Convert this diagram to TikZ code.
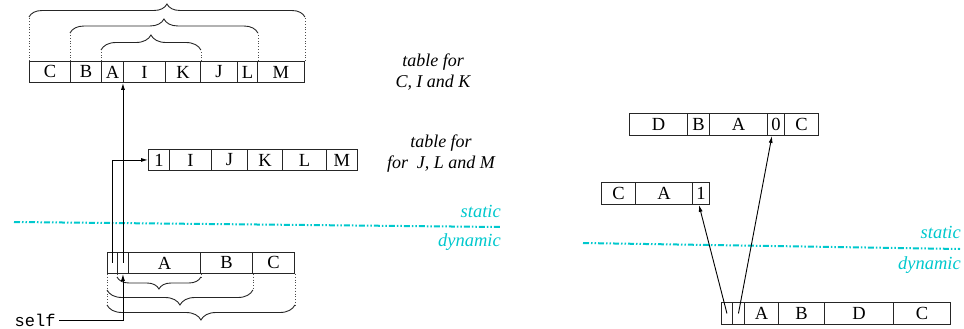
\documentclass[tikz,border=0pt]{standalone}
\usepackage{fontspec}
\setmainfont{Liberation Serif}
\setmonofont{Liberation Mono}
\usetikzlibrary{arrows.meta,decorations.pathreplacing,calc}
\definecolor{cyline}{RGB}{0,200,205}
\begin{document}
\begin{tikzpicture}[x=1pt,y=-1pt,
  cell/.style={draw=black!85, line width=0.9pt, inner sep=0pt, anchor=north west,
    minimum height=21pt, font=\fontsize{18.5}{19}\selectfont},
  lbl/.style={font=\fontsize{18}{21}\selectfont\itshape, align=center},
  cylbl/.style={font=\fontsize{18.5}{20}\selectfont\itshape, text=cyline, inner sep=0pt, anchor=east},
  cydash/.style={draw=cyline, line width=2pt,
    dash pattern=on 6pt off 2pt on 1.5pt off 2pt on 1.5pt off 2pt},
  brc/.style={decorate, line width=0.9pt, black!85},
  dots/.style={dotted, line width=0.8pt, black!70},
  arr/.style={line width=0.9pt, -{Latex[length=7pt,width=4pt]}}
]
\useasboundingbox (0,0) rectangle (964,329);

% ---------- top table ----------
\node[cell, minimum width=41pt] (t1) at (29,61) {C};
\node[cell, minimum width=31pt] (t2) at (70,61) {B};
\node[cell, minimum width=22pt] (t3) at (101,61) {A};
\node[cell, minimum width=42pt] (t4) at (123,61) {I};
\node[cell, minimum width=35pt] (t5) at (165,61) {K};
\node[cell, minimum width=37pt] (t6) at (200,61) {J};
\node[cell, minimum width=20pt] (t7) at (237,61) {L};
\node[cell, minimum width=47pt] (t8) at (257,61) {M};

% braces over top table
\draw[dots] (t1.north west) -- (t1.north west |- 0,17);
\draw[dots] (t8.north east) -- (t8.north east |- 0,17);
\draw[brc, decoration={brace, amplitude=13pt, aspect=0.5}] (t1.north west |- 0,17) -- (t8.north east |- 0,17);
\draw[dots] (t2.north west) -- (t2.north west |- 0,33);
\draw[dots] (t7.north east) -- (t7.north east |- 0,33);
\draw[brc, decoration={brace, amplitude=14pt}] (t2.north west |- 0,33) -- (t7.north east |- 0,33);
\draw[dots] (t3.north west) -- (t3.north west |- 0,50);
\draw[dots] (t5.north east) -- (t5.north east |- 0,50);
\draw[brc, decoration={brace, amplitude=15pt}] (t3.north west |- 0,50) -- (t5.north east |- 0,50);

\node[lbl] (lab1) at (433,72) {table for\\C, I and K};

% ---------- middle table ----------
\node[cell, minimum width=21pt] (m1) at (148,149) {1};
\node[cell, minimum width=42pt] (m2) at (169,149) {I};
\node[cell, minimum width=36pt] (m3) at (211,149) {J};
\node[cell, minimum width=35pt] (m4) at (247,149) {K};
\node[cell, minimum width=44pt] (m5) at (282,149) {L};
\node[cell, minimum width=31pt] (m6) at (326,149) {M};

\node[lbl] (lab2) at (441,154) {table for\\for\ \ J, L and M};

% ---------- static / dynamic (left) ----------
\coordinate (cl1) at (14,222);
\coordinate (cl2) at (500,227);
\draw[cydash] (cl1) -- (cl2);
\node[cylbl] (st1) at (501,211) {static};
\node[cylbl] (dy1) at (501,242) {dynamic};

% ---------- bottom-left table ----------
\node[cell, minimum width=10pt] (b1) at (107,252) {};
\node[cell, minimum width=11pt] (b2) at (117,252) {};
\node[cell, minimum width=72pt] (b3) at (128,252) {A};
\node[cell, minimum width=52pt] (b4) at (200,252) {B};
\node[cell, minimum width=42pt] (b5) at (252,252) {C};

% braces under bottom-left table
\draw[dots] (b2.south west) -- (b2.south west |- 0,277);
\draw[dots] (b3.south east) -- (b3.south east |- 0,277);
\draw[brc, decoration={brace, amplitude=12pt}] (b3.south east |- 0,277) -- (b2.south west |- 0,277);
\draw[dots] (b1.south west) -- (b1.south west |- 0,290);
\draw[dots] (b4.south east) -- (b4.south east |- 0,290);
\draw[brc, decoration={brace, amplitude=15pt}] (b4.south east |- 0,290) -- (b1.south west |- 0,290);
\draw[dots] (b1.south west) -- (b1.south west |- 0,305);
\draw[dots] (b5.south east) -- (b5.south east |- 0,305);
\draw[brc, decoration={brace, amplitude=15pt}] (b5.south east |- 0,305) -- (b1.south west |- 0,305);

% self
\node[anchor=east, font=\fontsize{17}{18}\selectfont\ttfamily] (self) at (59,320) {self};

% connectors (left)
\draw[arr] (b1.center) |- (m1.west);
\draw[arr] (b2.center) -- (b2.center |- t3.south east);
\draw[arr] (self.east) -| (b2.south);

% ---------- right side ----------
\node[cell, minimum width=58pt, minimum height=22pt] (r1) at (629,113) {D};
\node[cell, minimum width=22pt, minimum height=22pt] (r2) at (687,113) {B};
\node[cell, minimum width=58pt, minimum height=22pt] (r3) at (709,113) {A};
\node[cell, minimum width=17pt, minimum height=22pt] (r4) at (767,113) {0};
\node[cell, minimum width=34pt, minimum height=22pt] (r5) at (784,113) {C};

\node[cell, minimum width=34pt, minimum height=22pt] (s1) at (601,182) {C};
\node[cell, minimum width=57pt, minimum height=22pt] (s2) at (635,182) {A};
\node[cell, minimum width=17pt, minimum height=22pt] (s3) at (692,182) {1};

\coordinate (cr1) at (583,243);
\coordinate (cr2) at (960,249);
\draw[cydash] (cr1) -- (cr2);
\node[cylbl] (st2) at (961,232) {static};
\node[cylbl] (dy2) at (961,265) {dynamic};

\node[cell, minimum width=11pt, minimum height=22pt] (u1) at (721,302) {};
\node[cell, minimum width=12pt, minimum height=22pt] (u2) at (732,302) {};
\node[cell, minimum width=34pt, minimum height=22pt] (u3) at (744,302) {A};
\node[cell, minimum width=46pt, minimum height=22pt] (u4) at (778,302) {B};
\node[cell, minimum width=69pt, minimum height=22pt] (u5) at (824,302) {D};
\node[cell, minimum width=57pt, minimum height=22pt] (u6) at (893,302) {C};

\draw[arr] (u1.center) -- ($(s3.south)+(-2,0)$);
\draw[arr] (u2.center) -- ($(r4.south)+(-4,0)$);
\end{tikzpicture}
\end{document}
